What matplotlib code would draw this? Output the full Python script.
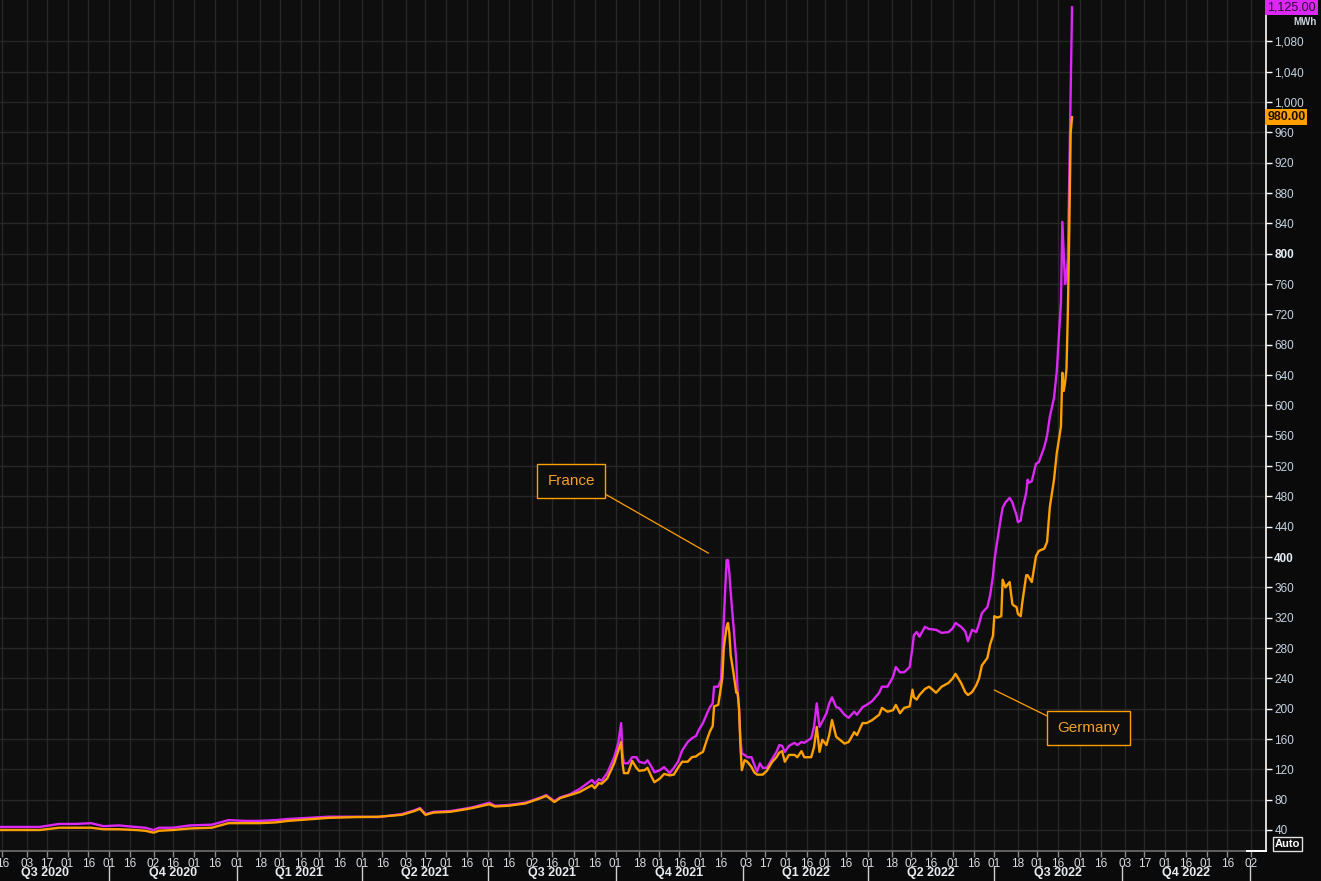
import numpy as np
import pandas as pd
import matplotlib.pyplot as plt
import matplotlib.transforms as mtransforms

# readings (EUR/MWh) for France and Germany
dates = ['2020-07-14', '2020-07-28', '2020-08-12', '2020-08-26', '2020-09-07', '2020-09-18',
         '2020-09-27', '2020-10-08', '2020-10-20', '2020-10-27', '2020-11-02', '2020-11-06',
         '2020-11-16', '2020-11-28', '2020-12-14', '2020-12-26', '2021-01-07', '2021-01-17',
         '2021-01-29', '2021-02-07', '2021-02-22', '2021-03-08', '2021-03-27', '2021-04-13',
         '2021-04-30', '2021-05-09', '2021-05-13', '2021-05-17', '2021-05-23', '2021-06-04',
         '2021-06-14', '2021-06-20', '2021-07-02', '2021-07-06', '2021-07-16', '2021-07-28',
         '2021-08-08', '2021-08-12', '2021-08-18', '2021-08-22', '2021-08-29', '2021-09-05',
         '2021-09-14', '2021-09-16', '2021-09-19', '2021-09-21', '2021-09-25', '2021-09-30',
         '2021-10-03', '2021-10-05', '2021-10-06', '2021-10-07', '2021-10-10', '2021-10-13',
         '2021-10-16', '2021-10-18', '2021-10-22', '2021-10-24', '2021-10-27', '2021-10-29',
         '2021-11-02', '2021-11-05', '2021-11-09', '2021-11-12', '2021-11-15', '2021-11-18',
         '2021-11-22', '2021-11-25', '2021-11-28', '2021-11-30', '2021-12-03', '2021-12-06',
         '2021-12-08', '2021-12-10', '2021-12-11', '2021-12-14', '2021-12-16', '2021-12-17',
         '2021-12-18', '2021-12-20', '2021-12-21', '2021-12-22', '2021-12-23', '2021-12-25',
         '2021-12-27', '2021-12-28', '2021-12-29', '2021-12-30', '2021-12-31', '2022-01-02',
         '2022-01-04', '2022-01-07', '2022-01-09', '2022-01-11', '2022-01-13', '2022-01-15',
         '2022-01-18', '2022-01-22', '2022-01-25', '2022-01-27', '2022-01-29', '2022-01-31',
         '2022-02-03', '2022-02-07', '2022-02-09', '2022-02-12', '2022-02-14', '2022-02-19',
         '2022-02-21', '2022-02-23', '2022-02-25', '2022-02-27', '2022-03-02', '2022-03-04',
         '2022-03-06', '2022-03-09', '2022-03-11', '2022-03-15', '2022-03-18', '2022-03-22',
         '2022-03-24', '2022-03-28', '2022-03-31', '2022-04-04', '2022-04-09', '2022-04-11',
         '2022-04-15', '2022-04-19', '2022-04-21', '2022-04-24', '2022-04-27', '2022-05-01',
         '2022-05-03', '2022-05-04', '2022-05-06', '2022-05-08', '2022-05-12', '2022-05-15',
         '2022-05-20', '2022-05-24', '2022-05-29', '2022-06-01', '2022-06-03', '2022-06-07',
         '2022-06-10', '2022-06-12', '2022-06-15', '2022-06-18', '2022-06-20', '2022-06-22',
         '2022-06-26', '2022-06-28', '2022-06-30', '2022-07-01', '2022-07-03', '2022-07-06',
         '2022-07-07', '2022-07-09', '2022-07-12', '2022-07-14', '2022-07-15', '2022-07-17',
         '2022-07-18', '2022-07-20', '2022-07-21', '2022-07-24', '2022-07-25', '2022-07-26',
         '2022-07-28', '2022-07-31', '2022-08-02', '2022-08-06', '2022-08-08', '2022-08-10',
         '2022-08-13', '2022-08-15', '2022-08-18', '2022-08-19', '2022-08-20', '2022-08-21',
         '2022-08-22', '2022-08-23', '2022-08-24', '2022-08-25', '2022-08-26']

france = [44, 44, 44, 48, 48, 49, 45, 46, 44, 43, 40, 43,
          43, 46, 47, 53, 52, 52, 53, 54.5, 56, 57.5, 57.5, 57,
          61, 66, 69, 61, 64, 65, 68, 70, 76, 72, 73, 76,
          83, 86, 78, 83, 87, 94, 106, 101, 107, 105, 115, 136,
          155, 181, 141, 128, 128, 136, 136, 130, 128, 132, 123, 116,
          119, 123, 115, 122, 130, 145, 156, 161, 164, 172, 181, 194,
          202, 207, 229, 229, 238, 277, 317, 396, 396, 379, 353, 308,
          264, 221, 200, 160, 141, 139, 136, 136, 126, 117, 128, 122,
          122, 134, 143, 152, 151, 143, 151, 155, 152, 156, 155, 161,
          176, 207, 176, 183, 194, 207, 215, 202, 201, 192, 188, 196,
          192, 202, 205, 210, 221, 229, 229, 242, 255, 248, 248, 255,
          281, 297, 301, 295, 308, 305, 304, 300, 301, 306, 313, 308,
          302, 289, 304, 301, 312, 326, 334, 350, 375, 395, 420, 455,
          465, 472, 478, 472, 466, 455, 446, 448, 461, 485, 502, 498,
          500, 523, 525, 545, 560, 585, 610, 645, 736, 842, 800, 760,
          770, 794, 900, 1017, 1125]

germany = [40, 40, 40, 43, 43, 43, 41, 41, 40, 39, 36.5, 39,
           40, 42, 43, 49, 49, 49, 50, 52, 54, 56, 57, 57.5,
           60, 65, 68, 60, 63, 64, 67, 69, 74, 71, 72, 75,
           82, 85, 77, 82, 86, 90, 99, 95, 102, 101, 108, 128,
           145, 156, 128, 115, 115, 131, 122, 118, 119, 122, 110, 103,
           108, 114, 112, 113, 122, 130, 130, 136, 137, 140, 143, 160,
           170, 177, 203, 205, 229, 242, 280, 308, 313, 300, 270, 247,
           221, 221, 200, 150, 119, 132, 130, 123, 116, 113, 113, 113,
           118, 130, 136, 142, 144, 130, 139, 139, 136, 144, 136, 136,
           149, 176, 143, 159, 152, 165, 185, 163, 160, 154, 156, 169,
           165, 181, 181, 185, 192, 201, 196, 198, 205, 194, 201, 203,
           225, 215, 212, 218, 226, 229, 221, 229, 234, 240, 246, 234,
           222, 218, 222, 231, 240, 257, 267, 285, 296, 322, 320, 322,
           370, 360, 367, 338, 336, 334, 325, 322, 338, 376, 376, 373,
           367, 401, 408, 411, 420, 466, 502, 537, 572, 643, 619, 630,
           648, 724, 830, 959, 980]

ytick_values = list(range(40, 1081, 40))
bold_yticks = [400, 800]
last_france = 1125
last_germany = 980

PURPLE = '#dc28f5'
ORANGE = '#ffa000'
BG = '#0e0e0e'

plt.rcParams['font.family'] = ['Liberation Sans', 'DejaVu Sans']

t = pd.to_datetime(dates)

# semi-monthly ticks rolled forward to the next weekday
def next_weekday(ts):
    while ts.weekday() >= 5:
        ts = ts + pd.Timedelta(days=1)
    return ts

start = pd.Timestamp('2020-07-01')
x_lo = start + pd.Timedelta(days=13.33)
x_hi = start + pd.Timedelta(days=925.8)

tick_dates = []
for m in pd.date_range('2020-07-01', '2023-01-01', freq='MS'):
    for day in (1, 16):
        d = next_weekday(m.replace(day=day))
        if x_lo <= d <= x_hi:
            tick_dates.append(d)
tick_labels = [d.strftime('%d') for d in tick_dates]

quarters = pd.date_range('2020-07-01', '2023-01-01', freq='QS')

fig = plt.figure(figsize=(13.21, 8.81), dpi=100, facecolor='#0a0a0a')
ax = fig.add_axes([0, 30 / 881, 1266 / 1321, 851 / 881])
ax.set_facecolor(BG)

ax.grid(True, color='#272727', linewidth=1, zorder=1)
ax.set_axisbelow(True)

ax.plot(t, france, color=PURPLE, lw=1.7, zorder=3)
ax.plot(t, germany, color=ORANGE, lw=1.7, zorder=4)

# x axis
ax.set_xticks(tick_dates)
ax.set_xticklabels(tick_labels)
ax.tick_params(axis='x', colors='#8a8a8a', labelcolor='#d8dde4', length=4, width=1,
               labelsize=8.5, pad=1)

# y axis on the right
ax.yaxis.tick_right()
ax.set_yticks(ytick_values)
ax.set_yticklabels([f'{v:,}' for v in ytick_values])
ax.tick_params(axis='y', colors='white', labelcolor='#c4d2e0', length=4, width=1,
               labelsize=8.5, pad=2)
for lab, v in zip(ax.get_yticklabels(), ytick_values):
    if v in bold_yticks:
        lab.set_fontweight('bold')
        lab.set_color('#e6eef6')

ax.set_xlim(x_lo, x_hi)
ax.set_ylim(12.3, 1134.6)

for s in ['top', 'left']:
    ax.spines[s].set_visible(False)
ax.spines['right'].set_color('white')
ax.spines['right'].set_linewidth(1.2)
ax.spines['bottom'].set_color('#707070')
ax.spines['bottom'].set_linewidth(1.2)

xa = mtransforms.blended_transform_factory(ax.transData, ax.transAxes)
ya = mtransforms.blended_transform_factory(ax.transAxes, ax.transData)

# white bit of the bottom edge next to the price axis
ax.plot([quarters[-1] - pd.Timedelta(days=2), x_hi], [0, 0], color='white',
        lw=1.4, transform=xa, clip_on=False, zorder=5)

# quarter separators and labels
for q in quarters:
    if x_lo <= q <= x_hi:
        ax.plot([q, q], [-0.0176, -0.04], color='#d0d0d0', lw=1, transform=xa, clip_on=False)
for q0, q1 in zip(quarters[:-1], quarters[1:]):
    mid = q0 + (q1 - q0) / 2
    ax.text(mid, -0.0262, f'Q{q0.quarter} {q0.year}', transform=xa, ha='center', va='center',
            color='#e8ecf0', fontsize=9, fontweight='bold', clip_on=False)

# unit and last value tags on the price axis
ax.text(1.022, 1106, 'MWh', transform=ya, ha='left', va='center', fontsize=7,
        color='#c8d2dc', fontweight='bold', zorder=5)
ax.text(1.001, last_france, f'{last_france:,.2f}', transform=ya, ha='left', va='center',
        fontsize=9, color='#2a102e', zorder=6,
        bbox=dict(boxstyle='square,pad=0.15', facecolor=PURPLE, edgecolor='none'))
ax.text(1.001, last_germany, f'{last_germany:,.2f}', transform=ya, ha='left', va='center',
        fontsize=9, color='#1a1000', fontweight='bold', zorder=6,
        bbox=dict(boxstyle='square,pad=0.15', facecolor=ORANGE, edgecolor='none'))

fig.text(1287.5 / 1321, 1 - 844 / 881, 'Auto', ha='center', va='center', fontsize=8,
         fontweight='bold', color='white',
         bbox=dict(boxstyle='square,pad=0.15', facecolor='none', edgecolor='#e0e0e0', lw=1))

# series callouts
ax.annotate('France', xy=(pd.Timestamp('2021-12-07'), 405),
            xytext=(pd.Timestamp('2021-08-30'), 500), ha='center', va='center',
            fontsize=11, color='#f0a030',
            bbox=dict(boxstyle='square,pad=0.65', facecolor=BG, edgecolor=ORANGE, lw=1),
            arrowprops=dict(arrowstyle='-', color=ORANGE, lw=0.9, relpos=(1, 0),
                            shrinkA=0, shrinkB=0), zorder=7)
ax.annotate('Germany', xy=(pd.Timestamp('2022-07-01'), 224.6),
            xytext=(pd.Timestamp('2022-09-07'), 174.5), ha='center', va='center',
            fontsize=11, color='#f0a030',
            bbox=dict(boxstyle='square,pad=0.65', facecolor=BG, edgecolor=ORANGE, lw=1),
            arrowprops=dict(arrowstyle='-', color=ORANGE, lw=0.9, relpos=(0, 1),
                            shrinkA=0, shrinkB=0), zorder=7)

fig.savefig('out.png', dpi=100, facecolor=fig.get_facecolor())
